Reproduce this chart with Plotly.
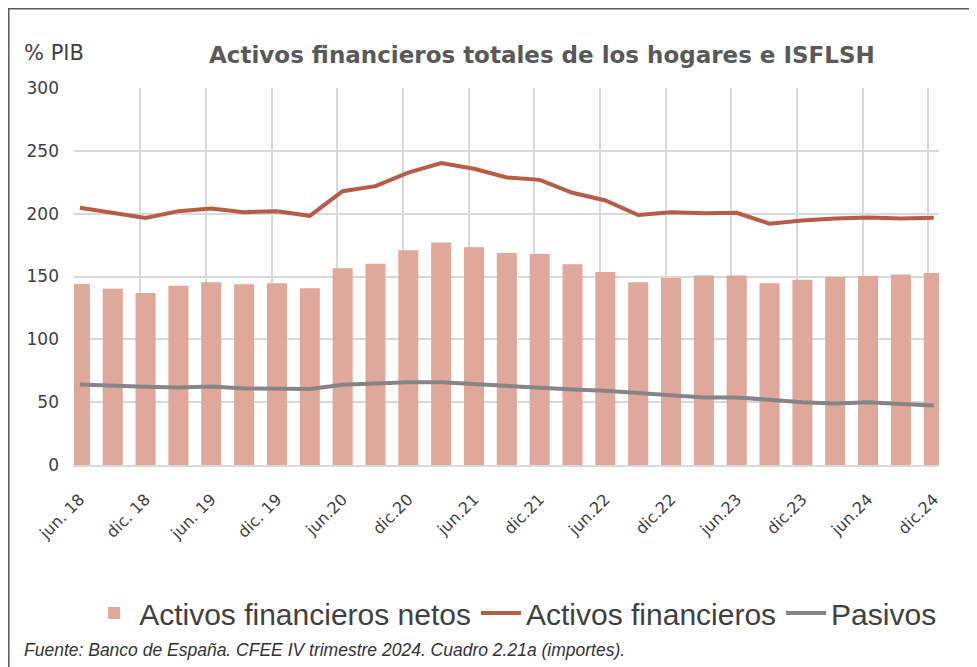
import numpy as np
import plotly.graph_objects as go

quarters = ["jun. 18", "sep. 18", "dic. 18", "mar. 19", "jun. 19", "sep. 19", "dic. 19",
            "mar.20", "jun.20", "sep.20", "dic.20", "mar.21", "jun.21", "sep.21", "dic.21",
            "mar.22", "jun.22", "sep.22", "dic.22", "mar.23", "jun.23", "sep.23", "dic.23",
            "mar.24", "jun.24", "sep.24", "dic.24"]

activos_netos = [144, 140.3, 136.9, 142.7, 145.4, 143.8, 144.6, 140.6, 156.5, 160.2, 170.8,
                 177.1, 173.2, 168.7, 167.9, 159.7, 153.6, 145.4, 148.8, 150.7, 150.7,
                 144.6, 147.5, 149.6, 150.4, 151.5, 152.8]

activos_financieros = [204.7, 200.4, 196.5, 202.0, 204.2, 201.2, 202.0, 198.3, 217.9, 221.9,
                       232.7, 240.2, 235.7, 228.8, 226.9, 216.6, 210.5, 198.9, 201.2, 200.4,
                       200.7, 192.0, 194.6, 196.2, 197.0, 196.2, 196.7]

pasivos = [64.1, 63.0, 62.2, 61.7, 62.5, 60.9, 60.4, 60.4, 63.8, 64.9, 65.9, 65.9, 64.3,
           62.8, 61.7, 60.1, 59.0, 57.5, 55.9, 53.8, 53.8, 51.6, 50.0, 49.0, 50.0, 48.5, 47.4]

y_ticks = [0, 50, 100, 150, 200, 250, 300]

x = list(range(len(quarters)))
label_idx = x[::2]
label_text = [quarters[i] for i in label_idx]

fig = go.Figure()
fig.add_trace(go.Bar(x=x, y=activos_netos, name="Activos financieros netos",
                     marker=dict(color="#E0A89A", line=dict(width=0)), width=0.61))
fig.add_trace(go.Scatter(x=x, y=activos_financieros, name="Activos financieros", mode="lines",
                         line=dict(color="#B85C45", width=4)))
fig.add_trace(go.Scatter(x=x, y=pasivos, name="Pasivos", mode="lines",
                         line=dict(color="#858585", width=4)))

grid_vals = list(np.arange(-0.16, 26.5, 2.0))

fig.update_layout(
    width=969, height=659,
    margin=dict(l=66, r=38, t=80, b=202),
    paper_bgcolor="white", plot_bgcolor="white",
    font=dict(family="DejaVu Sans, Liberation Sans, sans-serif", color="#404040"),
    title=dict(text="<b>Activos financieros totales de los hogares e ISFLSH</b>",
               x=0.551, xanchor="center", y=0.9287, yanchor="middle",
               font=dict(family="DejaVu Sans", size=23, color="#595959")),
    showlegend=True,
    legend=dict(orientation="h", x=0.51, xanchor="center", y=-0.3926, yanchor="middle",
                font=dict(family="Liberation Sans", size=30, color="#404040"), itemwidth=40,
                traceorder="normal"),
    xaxis=dict(range=[-0.18, 26.16], tickmode="array", tickvals=label_idx, ticktext=label_text,
               tickangle=-45, tickfont=dict(family="DejaVu Sans", size=16, color="#404040"),
               ticklabelstandoff=17,
               showgrid=False, zeroline=False, showline=True, linecolor="#D9D9D9", linewidth=1.5,
               ticks="",
               minor=dict(tickmode="array", tickvals=grid_vals, showgrid=True,
                          gridcolor="#D9D9D9", gridwidth=1.5, ticks="")),
    yaxis=dict(range=[0, 300], tickmode="array", tickvals=y_ticks,
               tickfont=dict(family="DejaVu Sans", size=17, color="#404040"), showgrid=True,
               ticklabelstandoff=14,
               gridcolor="#D9D9D9", gridwidth=1.5, zeroline=False, ticks=""),
)

fig.add_annotation(text="% PIB", xref="paper", yref="paper", x=-0.060, y=1.093,
                   xanchor="left", yanchor="middle", showarrow=False,
                   font=dict(family="DejaVu Sans", size=21, color="#404040"))
fig.add_annotation(text="<i>Fuente: Banco de España. CFEE IV trimestre 2024. Cuadro 2.21a (importes).</i>",
                   xref="paper", yref="paper", x=-0.060, y=-0.491,
                   xanchor="left", yanchor="middle", showarrow=False,
                   font=dict(family="Liberation Sans", size=17.5, color="#333333"))
fig.add_shape(type="rect", xref="paper", yref="paper", x0=-0.0754, x1=1.2, y0=-0.7, y1=1.2102,
              line=dict(color="#595959", width=1.5), fillcolor="rgba(0,0,0,0)", layer="above")

fig.write_html("out.html")
